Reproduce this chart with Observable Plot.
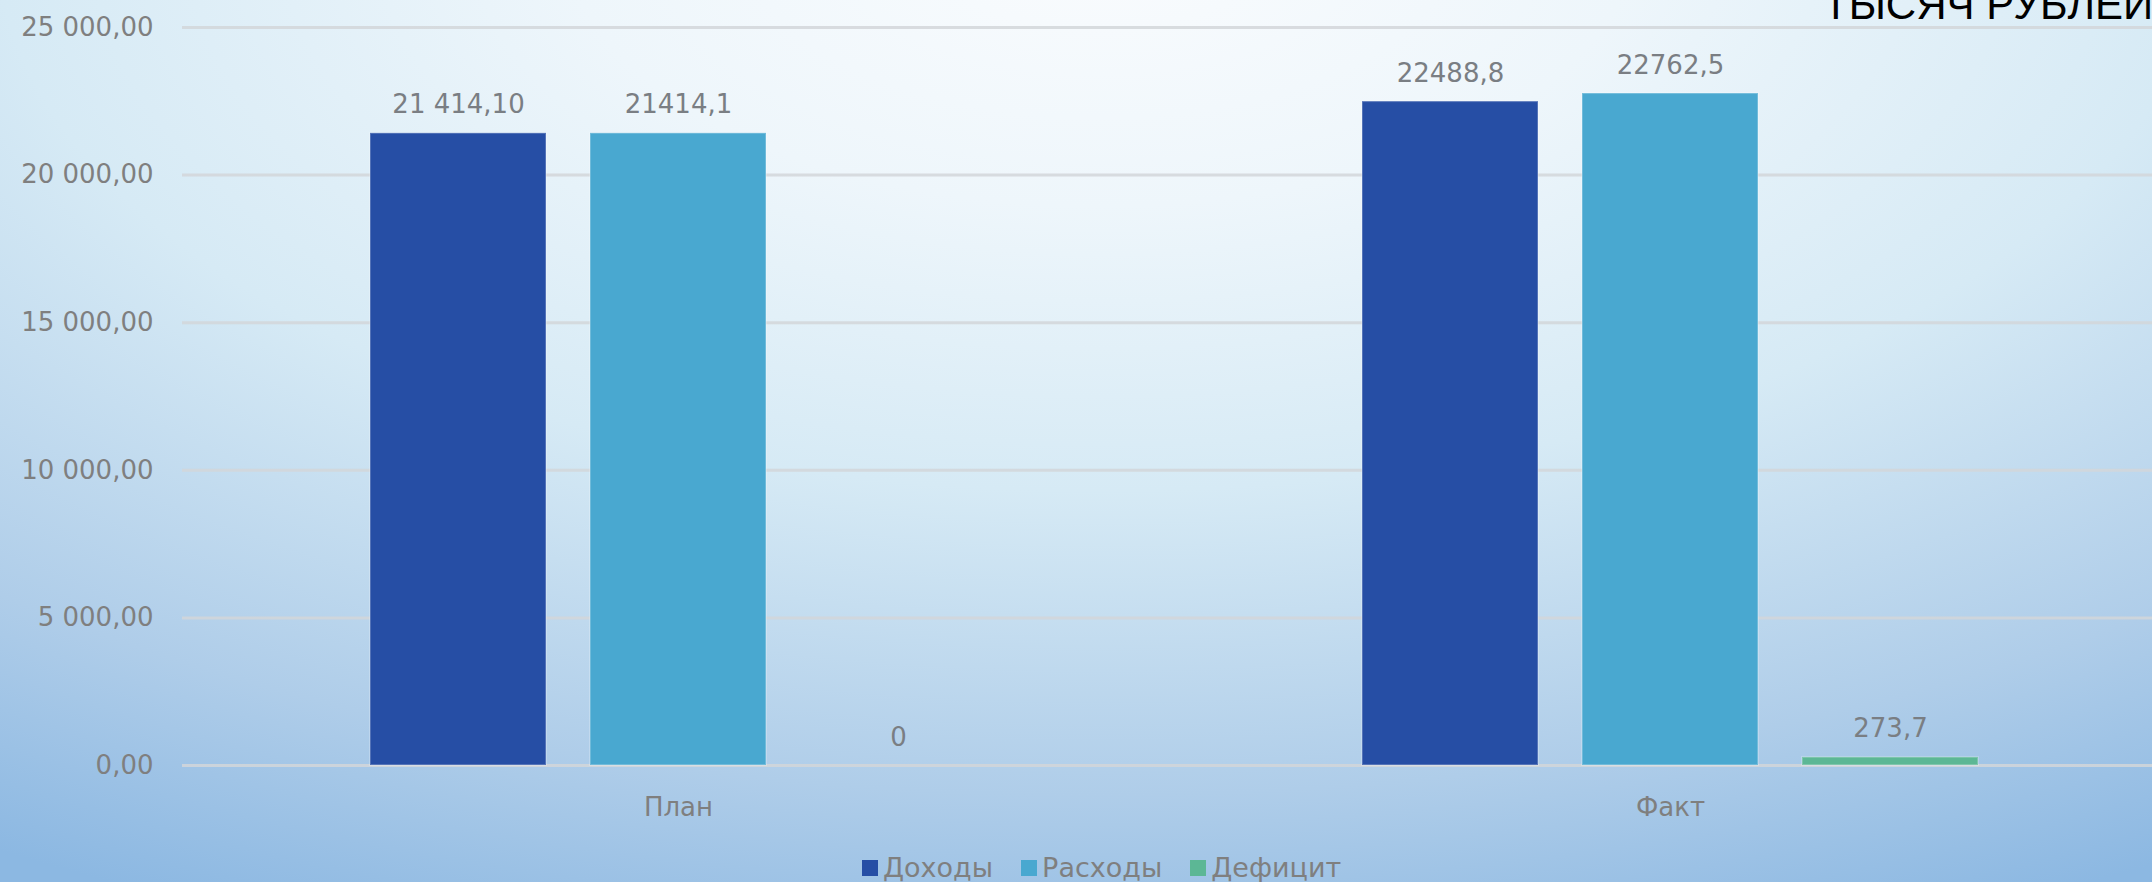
<!DOCTYPE html>
<html>
<head>
<meta charset="utf-8">
<script src="https://cdn.jsdelivr.net/npm/d3@7"></script>
<script src="https://cdn.jsdelivr.net/npm/@observablehq/plot@0.6"></script>
<style>
html, body { margin: 0; padding: 0; }
body {
  width: 2152px; height: 882px; overflow: hidden; position: relative;
  background: radial-gradient(1900px 950px at 1100px -60px, #fafcfe 0%, #eef6fb 28%, #d6eaf5 58%, #afcde9 90%, #8cb8e2 112%);
  font-family: "DejaVu Sans", sans-serif;
}
#chart { position: absolute; left: 0; top: 0; width: 2166px; }
#chart svg { max-width: none !important; }
#title { position: absolute; left: 1823px; top: -16px; font: 42px/1 "Liberation Sans", Arial, sans-serif; color: #000; white-space: nowrap; }
#legend { position: absolute; left: 862px; top: 851px; }
.lg-swatch { margin-right: 28px !important; }
.lg-swatch > svg { margin-right: 5px !important; }
</style>
</head>
<body>
<div id="chart"></div>
<div id="title">ТЫСЯЧ РУБЛЕЙ</div>
<div id="legend"></div>
<script>
const categories = ["План", "Факт"];
const series = ["Доходы", "Расходы", "Дефицит"];
const planValues = [21414.1, 21414.1, 0];
const factValues = [22488.8, 22762.5, 273.7];
const planLabels = ["21 414,10", "21414,1", "0"];
const factLabels = ["22488,8", "22762,5", "273,7"];
const colors = ["#264ea5", "#49a8d0", "#5cb795"];
const yTicks = [0, 5000, 10000, 15000, 20000, 25000];
const yTickLabels = ["0,00", "5 000,00", "10 000,00", "15 000,00", "20 000,00", "25 000,00"];

const valuesByCat = [planValues, factValues];
const labelsByCat = [planLabels, factLabels];
const rows = [];
categories.forEach((c, ci) => series.forEach((s, si) => rows.push({
  cat: c, series: s, value: valuesByCat[ci][si], label: labelsByCat[ci][si]
})));

const chart = Plot.plot({
  width: 2166, height: 840,
  marginLeft: 182, marginRight: 0, marginTop: 27, marginBottom: 75,
  style: {background: "transparent", fontFamily: "DejaVu Sans", fontSize: "26px", color: "#7f7f7f", overflow: "visible", maxWidth: "none"},
  fx: {domain: categories, paddingInner: 0, paddingOuter: 0, label: null},
  x: {domain: series, paddingInner: 0.2, paddingOuter: 0.85, axis: null},
  y: {domain: [0, 25000]},
  color: {domain: series, range: colors},
  marks: [
    Plot.gridY(yTicks, {stroke: "#d2d6d9", strokeOpacity: 0.85, strokeWidth: 3}),
    Plot.barY(rows, {filter: d => d.value > 0, fx: "cat", x: "series", y: "value", fill: "series", stroke: "white", strokeOpacity: 0.22, strokeWidth: 2}),
    Plot.text(rows, {fx: "cat", x: "series", y: "value", text: "label", dy: -20, lineAnchor: "bottom", fill: "#7a7e83", fontSize: 26}),
    Plot.axisY(yTicks, {tickSize: 0, tickPadding: 29, tickFormat: d => yTickLabels[yTicks.indexOf(d)], fill: "#7f7f7f", fontSize: 26, label: null}),
    Plot.axisFx({anchor: "bottom", tickSize: 0, tickPadding: 32, label: null, fill: "#7f7f7f", fontSize: 26})
  ]
});
document.getElementById("chart").append(chart);

const legend = Plot.legend({
  color: {domain: series, range: colors},
  legend: "swatches",
  swatchSize: 16,
  className: "lg",
  style: {fontFamily: "DejaVu Sans", fontSize: "27px", color: "#7f7f7f", background: "transparent"}
});
document.getElementById("legend").append(legend);
</script>
</body>
</html>
